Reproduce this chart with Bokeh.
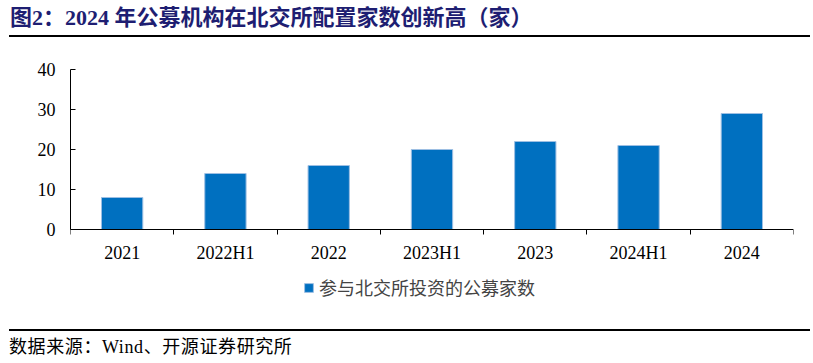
from bokeh.plotting import figure
from bokeh.models import (Range1d, FactorRange, LinearAxis, CategoricalAxis, FixedTicker,
                          Legend, LegendItem, ColumnDataSource, Div, CustomJSTickFormatter)
from bokeh.layouts import column
from bokeh.embed import file_html
from bokeh.resources import INLINE

# ---- data ----
categories = ["2021", "2022H1", "2022", "2023H1", "2023", "2024H1", "2024"]
fund_counts = [8, 14, 16, 20, 22, 21, 29]
y_ticks = [0, 10, 20, 30, 40]
title_text = "图2：2024 年公募机构在北交所配置家数创新高（家）"
series_name = "参与北交所投资的公募家数"
source_text = "数据来源：Wind、开源证券研究所"

FONT = "'Liberation Serif', 'Noto Sans CJK SC'"
BAR = "#0070C0"
TITLE_COLOR = "#1E1E72"
W = 812

# ---- title strip (HTML) ----
top_html = (
    '<div style="position:relative;width:%dpx;height:59px;">'
    '<div style="position:absolute;left:10px;top:6px;white-space:nowrap;'
    'font-family:%s;font-size:22px;font-weight:bold;line-height:24px;color:%s;">%s</div>'
    '<div style="position:absolute;left:9px;top:35px;width:801px;height:0;'
    'border-top:2px solid #000;"></div></div>' % (W, FONT, TITLE_COLOR, title_text)
)
top = Div(text=top_html, width=W, height=59, margin=(0, 0, 0, 0))

# ---- main chart ----
# the frame reaches below zero so that the legend can sit inside it
p = figure(width=W, height=260, x_range=FactorRange(*categories), y_range=Range1d(-19, 40),
           output_backend="svg", toolbar_location=None,
           min_border_left=70, min_border_right=W - 793, min_border_top=10, min_border_bottom=14,
           x_axis_location=None, y_axis_location=None, outline_line_color=None)
p.xgrid.visible = False
p.ygrid.visible = False

src = ColumnDataSource(dict(cat=categories, val=fund_counts))
r = p.vbar(x="cat", top="val", bottom=0, width=0.4, source=src, fill_color=BAR,
           line_color="#9DBFE3", line_width=1)

yaxis = LinearAxis(ticker=FixedTicker(ticks=y_ticks), bounds=(0, 40),
                   major_tick_in=5, major_tick_out=0,
                   minor_tick_in=0, minor_tick_out=0, major_label_standoff=15,
                   major_label_text_font=FONT, major_label_text_font_size="18px",
                   major_label_text_color="black", axis_line_color="black",
                   major_tick_line_color="black")
p.add_layout(yaxis, "left")

# tick marks at the category boundaries (synthetic coordinates of the factor range)
edge_axis = LinearAxis(ticker=FixedTicker(ticks=list(range(len(categories) + 1))),
                       formatter=CustomJSTickFormatter(code="return ''"),
                       fixed_location=0,
                       major_tick_in=0, major_tick_out=5, minor_tick_in=0, minor_tick_out=0,
                       major_label_standoff=0,
                       axis_line_color="black", major_tick_line_color="black")
p.add_layout(edge_axis, "below")

cat_axis = CategoricalAxis(fixed_location=0, axis_line_color=None,
                           major_tick_in=0, major_tick_out=0,
                           major_label_standoff=13, major_label_text_font=FONT,
                           major_label_text_font_size="18px", major_label_text_color="black")
p.add_layout(cat_axis, "below")

legend = Legend(items=[LegendItem(label=series_name, renderers=[r])],
                location=(233, 5), orientation="horizontal",
                glyph_width=11, glyph_height=11, label_standoff=5,
                label_text_font=FONT, label_text_font_size="18px", label_height=18,
                padding=0, margin=0, spacing=0,
                border_line_color=None, background_fill_alpha=0)
p.add_layout(legend, "center")

# ---- source strip (HTML) ----
bottom_html = (
    '<div style="position:relative;width:%dpx;height:36px;">'
    '<div style="position:absolute;left:9px;top:10px;width:801px;height:0;'
    'border-top:2px solid #000;"></div>'
    '<div style="position:absolute;left:9px;top:18px;white-space:nowrap;letter-spacing:0.6px;'
    'font-family:%s;font-size:18px;line-height:20px;color:#000;">%s</div></div>'
    % (W, FONT, source_text)
)
bottom = Div(text=bottom_html, width=W, height=36, margin=(0, 0, 0, 0))

layout = column(top, p, bottom, spacing=0)
open("out.html", "w").write(file_html(layout, INLINE))
